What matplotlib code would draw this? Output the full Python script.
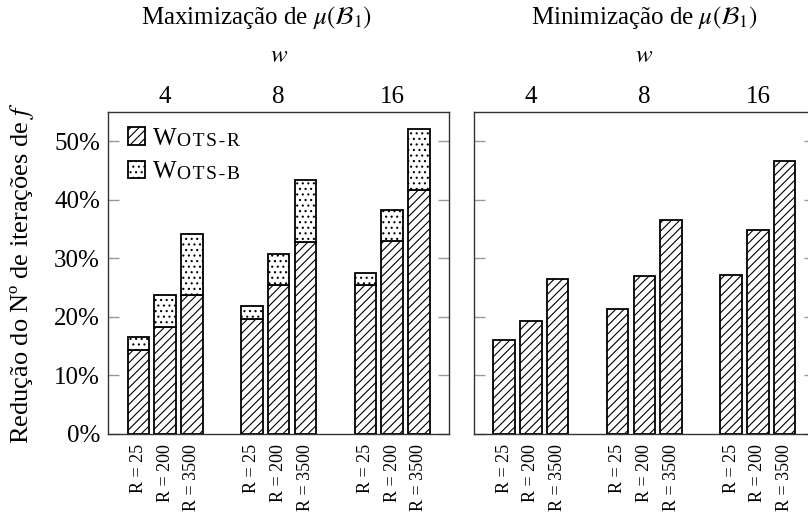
import matplotlib
matplotlib.use("Agg")
import matplotlib.pyplot as plt
import numpy as np

plt.rcParams["font.family"] = ["Liberation Serif", "DejaVu Serif"]
plt.rcParams["mathtext.fontset"] = "stix"
plt.rcParams["hatch.linewidth"] = 0.8

# w values on top, R values per bar on the bottom
w_values = ["4", "8", "16"]
r_labels = ["R = 25", "R = 200", "R = 3500"]

# reduction (%) per w (rows) and R (columns)
max_wots_r = [[14.3, 18.2, 23.8], [19.7, 25.4, 32.8], [25.5, 32.9, 41.7]]
max_wots_b = [[16.6, 23.7, 34.2], [21.9, 30.8, 43.3], [27.5, 38.3, 52.1]]
min_wots_r = [[16.0, 19.3, 26.5], [21.3, 26.9, 36.5], [27.1, 34.9, 46.6]]

titles = [r"Maximização de $\mu(\mathcal{B}_1)$", r"Minimização de $\mu(\mathcal{B}_1)$"]
y_ticks = [0, 10, 20, 30, 40, 50]

FS = 18
BAR_STEP = 0.2355
BAR_W = 0.19
SPINE = "#333333"
TICK = "#999999"


def bar_positions():
    groups = np.arange(len(w_values))
    offs = (np.arange(len(r_labels)) - 1) * BAR_STEP
    return (groups[:, None] + offs[None, :]).ravel()


def setup_axes(ax, title, show_y, title_x):
    xs = bar_positions()
    ax.set_xlim(-0.5, 2.5)
    ax.set_ylim(0, 55)
    ax.set_yticks(y_ticks)
    ax.set_yticklabels([f"{v}%" for v in y_ticks] if show_y else [])
    ax.tick_params(axis="y", direction="in", length=8, width=1, color=TICK,
                   left=True, right=True, labelsize=FS, pad=6)
    ax.set_xticks(xs)
    ax.set_xticklabels(r_labels * len(w_values), rotation=90, fontsize=13)
    ax.tick_params(axis="x", length=0, pad=7)
    for s in ax.spines.values():
        s.set_color(SPINE)
        s.set_linewidth(1.0)

    top = ax.secondary_xaxis("top")
    top.set_xticks(np.arange(len(w_values)))
    top.set_xticklabels(w_values, fontsize=FS)
    top.tick_params(length=0, pad=3)
    top.set_xlabel("$w$", fontsize=FS, labelpad=17)
    top.spines["top"].set_visible(False)
    ax.set_title(title, fontsize=FS, pad=15, x=title_x)


fig = plt.figure(figsize=(8.08, 5.16), dpi=100)
ax1 = fig.add_axes([0.134, 0.159, 0.4217, 0.624])
ax2 = fig.add_axes([0.5866, 0.159, 0.4217, 0.624])

xs = bar_positions()
r_left = np.array(max_wots_r).ravel()
b_left = np.array(max_wots_b).ravel()
r_right = np.array(min_wots_r).ravel()

bar_kw = dict(width=BAR_W, color="white", edgecolor="black", linewidth=1.3)
h_r = ax1.bar(xs, r_left, hatch="////", zorder=2, **bar_kw)
h_b = ax1.bar(xs, b_left - r_left, bottom=r_left, hatch="...", zorder=2, **bar_kw)
ax2.bar(xs, r_right, hatch="////", zorder=2, **bar_kw)

# left title sits over the plot including its tick labels
setup_axes(ax1, titles[0], True, 0.434)
setup_axes(ax2, titles[1], False, 0.5)
ax1.set_ylabel("Redução do Nº de iterações de $f$", fontsize=19, labelpad=13)

# small caps look for the legend entries: big "W", smaller spaced rest
leg = ax1.legend([h_r, h_b], ["W", "W"], loc="upper left", frameon=False,
                 fontsize=FS, handlelength=0.68, handleheight=0.72,
                 handletextpad=0.3, labelspacing=0.42,
                 borderaxespad=0.0, bbox_to_anchor=(0.03, 0.983))
for txt, rest in zip(leg.get_texts(), ["OTS-R", "OTS-B"]):
    ax1.annotate("\u200a".join(rest), xy=(1, 0), xycoords=txt,
                 xytext=(0.5, 0), textcoords="offset points", fontsize=14,
                 zorder=6, va="bottom", ha="left")

fig.savefig("out.png", dpi=100)
